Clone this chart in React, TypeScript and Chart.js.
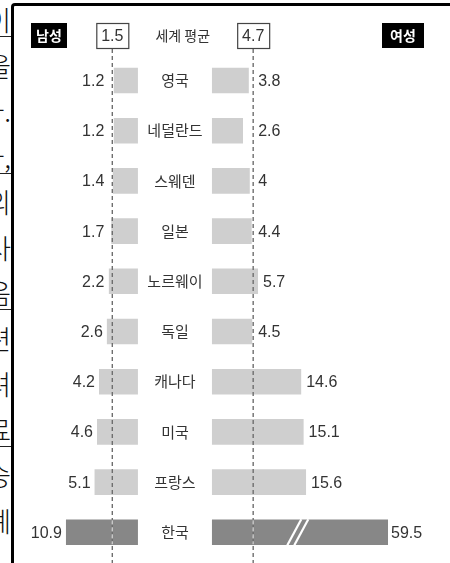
import React, { useEffect, useRef } from "react";
import { Chart, registerables } from "chart.js";

Chart.register(...registerables);

// ---- data ----
const countries = ["영국", "네덜란드", "스웨덴", "일본", "노르웨이", "독일", "캐나다", "미국", "프랑스", "한국"];
const maleRates = [1.2, 1.2, 1.4, 1.7, 2.2, 2.6, 4.2, 4.6, 5.1, 10.9];
const femaleRates = [3.8, 2.6, 4, 4.4, 5.7, 4.5, 14.6, 15.1, 15.6, 59.5];
const worldAvgMale = 1.5;
const worldAvgFemale = 4.7;
const highlightCountry = "한국";
const legendMale = "남성";
const legendFemale = "여성";
const worldAvgLabel = "세계 평균";
const sideText = ["이", "을", "다.", "다,", "의", "사", "음", "련", "려", "료", "승", "례"];

// ---- display constants (broken axis / bar bases) ----
const MALE_BASE = -3.7;
const FEMALE_BASE = -3.8;
const FEMALE_CAP = 32.5; // visual length of broken bar
const BREAK_AT = 13.9; // where the // mark sits

const LIGHT = "#cfcfcf";
const DARK = "#878787";
const TEXT = "#333333";
const NUM_FONT = '16px "Liberation Sans", Arial, sans-serif';
const KR_FONT = '"Noto Sans CJK KR", "Noto Sans", sans-serif';

const fmt = (v: number) => String(v);

const overlayPlugin = {
  id: "overlay",
  afterDatasetsDraw(chart: any) {
    const ctx = chart.ctx as CanvasRenderingContext2D;
    const xm = chart.scales.xm;
    const xf = chart.scales.xf;
    const y = chart.scales.y;
    const mAvg = xm.getPixelForValue(worldAvgMale);
    const fAvg = xf.getPixelForValue(worldAvgFemale);
    const mBase = xm.getPixelForValue(MALE_BASE);
    const fBase = xf.getPixelForValue(FEMALE_BASE);
    const ki = countries.indexOf(highlightCountry);

    ctx.save();
    // break mark
    if (ki >= 0 && femaleRates[ki] > FEMALE_CAP) {
      const bx = xf.getPixelForValue(BREAK_AT);
      const cy = y.getPixelForValue(ki);
      const half = 13;
      ctx.strokeStyle = "#ffffff";
      ctx.lineWidth = 2.2;
      for (const dx of [-3.5, 3.5]) {
        ctx.beginPath();
        ctx.moveTo(bx + dx - 7, cy + half);
        ctx.lineTo(bx + dx + 7, cy - half);
        ctx.stroke();
      }
    }

    // dashed average lines
    ctx.setLineDash([4, 3]);
    ctx.lineWidth = 1.4;
    for (const x of [mAvg, fAvg]) {
      ctx.strokeStyle = "#6e6e6e";
      ctx.beginPath();
      ctx.moveTo(x, 49);
      ctx.lineTo(x, chart.height);
      ctx.stroke();
      if (ki >= 0) {
        const cy = y.getPixelForValue(ki);
        ctx.strokeStyle = "#c8c8c8";
        ctx.beginPath();
        ctx.moveTo(x, cy - 12);
        ctx.lineTo(x, cy + 12);
        ctx.stroke();
      }
    }
    ctx.setLineDash([]);

    // value labels & country labels
    ctx.textBaseline = "middle";
    countries.forEach((c, i) => {
      const cy = y.getPixelForValue(i);
      const mLeft = xm.getPixelForValue(maleRates[i]);
      const fRight = xf.getPixelForValue(Math.min(femaleRates[i], FEMALE_CAP));
      ctx.fillStyle = TEXT;
      ctx.font = NUM_FONT;
      ctx.textAlign = "right";
      ctx.fillText(fmt(maleRates[i]), Math.min(mLeft - 4, mAvg - 8), cy + 1);
      ctx.textAlign = "left";
      const fx = femaleRates[i] > FEMALE_CAP ? fRight + 3 : Math.max(fRight + 5, fAvg + 5);
      ctx.fillText(fmt(femaleRates[i]), fx, cy + 1);
      ctx.font = "15px " + KR_FONT;
      ctx.textAlign = "center";
      ctx.fillText(c, (mBase + fBase) / 2, cy);
    });

    // header
    const hy = 23, hh = 25, hc = hy + hh / 2;
    ctx.fillStyle = "#000";
    ctx.fillRect(31, hy, 36, hh);
    ctx.fillRect(382, hy, 42, hh);
    ctx.fillStyle = "#fff";
    ctx.font = "bold 14px " + KR_FONT;
    ctx.textAlign = "center";
    ctx.fillText(legendMale, 49, hc);
    ctx.fillText(legendFemale, 403, hc);

    ctx.lineWidth = 1.2;
    ctx.strokeStyle = "#444";
    for (const [x, v] of [[mAvg, worldAvgMale], [fAvg, worldAvgFemale]] as [number, number][]) {
      ctx.fillStyle = "#fff";
      ctx.fillRect(x - 16, hy, 32, hh);
      ctx.strokeRect(x - 16 + 0.5, hy + 0.5, 32, hh);
      ctx.fillStyle = TEXT;
      ctx.font = NUM_FONT;
      ctx.fillText(fmt(v), x, hc + 1);
    }
    ctx.font = "14px " + KR_FONT;
    ctx.fillStyle = TEXT;
    ctx.fillText(worldAvgLabel, (mAvg + fAvg) / 2, hc);
    ctx.restore();
  },
};

export default function App() {
  const ref = useRef<HTMLCanvasElement | null>(null);
  useEffect(() => {
    if (!ref.current) return;
    const colors = countries.map((c) => (c === highlightCountry ? DARK : LIGHT));
    const chart = new Chart(ref.current, {
      type: "bar",
      data: {
        labels: countries,
        datasets: [
          {
            label: legendMale,
            data: maleRates,
            xAxisID: "xm",
            yAxisID: "y",
            base: MALE_BASE,
            backgroundColor: colors,
            grouped: false,
            barPercentage: 1,
            categoryPercentage: 0.51,
          } as any,
          {
            label: legendFemale,
            data: femaleRates.map((v) => Math.min(v, FEMALE_CAP)),
            xAxisID: "xf",
            yAxisID: "y",
            base: FEMALE_BASE,
            backgroundColor: colors,
            grouped: false,
            barPercentage: 1,
            categoryPercentage: 0.51,
          } as any,
        ],
      },
      options: {
        indexAxis: "y",
        responsive: false,
        animation: false,
        devicePixelRatio: 1,
        layout: { padding: { top: 55.4, bottom: 5.6, left: 0, right: 0 } },
        plugins: { legend: { display: false }, tooltip: { enabled: false } },
        scales: {
          y: { type: "category", display: false, grid: { display: false } },
          xm: { type: "linear", reverse: true, min: -67.0, max: 24.28, display: false },
          xf: { type: "linear", min: -47.5, max: 45.28, display: false },
        },
      } as any,
      plugins: [overlayPlugin],
    });
    return () => chart.destroy();
  }, []);

  return (
    <div style={{ position: "fixed", left: 0, top: 0, width: 450, height: 563, overflow: "hidden", background: "#fff" }}>
      <div style={{ position: "absolute", left: 0, top: 0, width: 11, height: 563, overflow: "hidden" }}>
        {sideText.map((t, i) => (
          <span
            key={i}
            style={{
              position: "absolute",
              right: 0,
              top: 4 + i * 45.5,
              fontSize: 27,
              lineHeight: "32px",
              fontFamily: '"Noto Sans CJK KR", serif',
              fontWeight: 300,
              color: "#111",
              whiteSpace: "nowrap",
              borderBottom: i % 3 === 0 ? "1px solid #222" : "none",
            }}
          >
            {t}
          </span>
        ))}
      </div>
      <div
        style={{
          position: "absolute",
          left: 11,
          top: 3,
          width: 460,
          height: 580,
          borderLeft: "3px solid #000",
          borderTop: "3px solid #000",
          borderTopLeftRadius: 4,
        }}
      />
      <canvas ref={ref} width={450} height={563} style={{ position: "absolute", left: 0, top: 0 }} />
    </div>
  );
}
